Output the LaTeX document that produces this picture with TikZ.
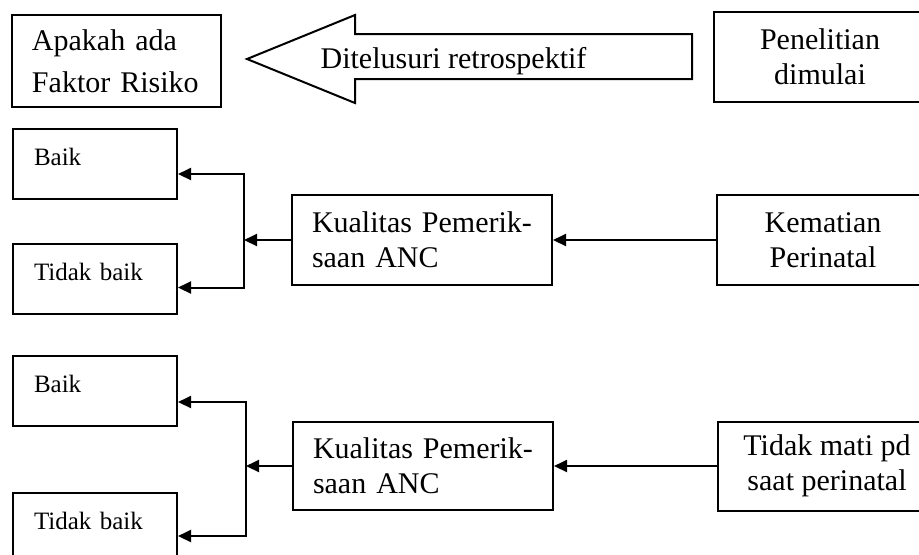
\documentclass[tikz,border=0pt]{standalone}
\usepackage{fontspec}
\setmainfont{Liberation Serif}
\usepackage{tikz}
\usetikzlibrary{positioning,arrows.meta}

\begin{document}
\begin{tikzpicture}[
    x=0.5pt, y=-0.5pt,
    >={Triangle[length=6.5pt,width=6pt]},
    bigbox/.style={draw, line width=1pt, minimum height=45pt, font=\fontsize{15pt}{17.5pt}\selectfont},
    leftbox/.style={bigbox, align=left, text width=110pt, inner xsep=10pt},
    endbox/.style={bigbox, align=center, minimum width=106pt},
    smallbox/.style={draw, line width=1pt, anchor=north west, minimum width=82pt, align=left, text width=61pt, inner xsep=10.5pt, inner ysep=0pt, text height=18pt, text depth=17pt, font=\fontsize{12.5pt}{15pt}\selectfont},
    flow/.style={->, line width=1pt},
  ]
    \useasboundingbox (0,0) rectangle (919,554);
    \clip (0,0) rectangle (919,554);

    % top row
    \node[leftbox, text width=84.5pt, minimum height=46pt, font=\fontsize{15pt}{21pt}\selectfont] (risk) at (116.5,61) {Apakah ada\\Faktor Risiko};
    \node[endbox] (start) at (820,57) {Penelitian\\dimulai};
    \draw[line width=1pt] (247,59) -- (355,15) -- (355,34) -- (692,34) -- (692,79) -- (355,79) -- (355,103) -- cycle;
    \node[font=\fontsize{15pt}{18pt}\selectfont] (trace) at (453.5,61) {Ditelusuri retrospektif};

    % kematian perinatal
    \node[leftbox] (qual1) at (422,240) {Kualitas Pemerik-\\saan ANC};
    \node[endbox, right=81.5pt of qual1] (death) {Kematian\\Perinatal};
    \node[smallbox, minimum height=35pt] (good1) at (12,128) {Baik};
    \node[smallbox, minimum height=34.5pt] (bad1) at (12,243) {Tidak baik};
    \coordinate[left=23.5pt of qual1.west] (split1);

    \draw[flow] (death.west) -- (death.west -| qual1.east);
    \draw[flow] (qual1.west) -- (split1);
    \draw[flow] (split1) |- ([yshift=-5pt]good1.east);
    \draw[flow] (split1) |- ([yshift=-4.25pt]bad1.east);

    % tidak mati
    \node[leftbox, minimum height=44pt] (qual2) at (423,466) {Kualitas Pemerik-\\saan ANC};
    \node[endbox, minimum width=109pt, minimum height=44.5pt, right=81.5pt of qual2] (alive) {Tidak mati pd\\saat perinatal};
    \node[smallbox, minimum height=34pt] (good2) at (12,355) {Baik};
    \node[smallbox, minimum height=35pt] (bad2) at (12,492) {Tidak baik};
    \coordinate[left=23pt of qual2.west] (split2);

    \draw[flow] (alive.west) -- (alive.west -| qual2.east);
    \draw[flow] (qual2.west) -- (split2);
    \draw[flow] (split2) |- ([yshift=-5.5pt]good2.east);
    \draw[flow] (split2) |- ([yshift=-4pt]bad2.east);
  \end{tikzpicture}
\end{document}
